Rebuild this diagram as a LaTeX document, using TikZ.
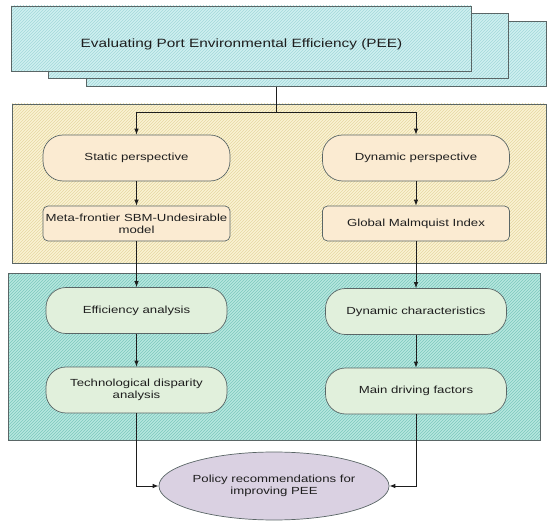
\documentclass[tikz,border=0pt]{standalone}
\usepackage{fontspec}
\setmainfont[FakeStretch=1.28]{Liberation Sans}
\usetikzlibrary{arrows.meta,patterns,shapes.geometric}
\definecolor{framegray}{HTML}{5A6666}
\definecolor{inkgray}{HTML}{1E1E1E}
\definecolor{titlecyan}{HTML}{CFEFF0}
\definecolor{titlehatch}{HTML}{A3D9DA}
\definecolor{panelyellow}{HTML}{FAF3D3}
\definecolor{yellowhatch}{HTML}{E6D7A2}
\definecolor{boxpeach}{HTML}{FBEBD2}
\definecolor{panelteal}{HTML}{B6E7DF}
\definecolor{tealhatch}{HTML}{7CC8BC}
\definecolor{boxgreen}{HTML}{E1F0DC}
\definecolor{ovallilac}{HTML}{DAD1E2}
\begin{document}
\begin{tikzpicture}
[x=1pt,y=-1pt,
  titledecorate/.style={draw=framegray,line width=0.8pt,preaction={fill=titlecyan},
    pattern=north east lines,pattern color=titlehatch,
    minimum width=460pt,minimum height=65pt,inner sep=0pt},%
  paneldecorate/.style={draw=framegray,line width=0.8pt,inner sep=0pt},%
  stadiumdecorate/.style={draw=framegray,line width=0.7pt,rounded corners=20pt,
    minimum width=187pt,minimum height=46pt,inner sep=0pt,align=center,
    font=\fontsize{10.3}{12}\selectfont,text=inkgray},%
  flatdecorate/.style={stadiumdecorate,rounded corners=5pt,minimum height=35pt},%
  linedecorate/.style={-{Latex[length=6pt,width=4.5pt]},line width=0.8pt,draw=inkgray},%
  plaindecorate/.style={-,line width=0.8pt,draw=inkgray}]
\useasboundingbox (0,0) rectangle (550,527);
%% title stack
\node (back2) at (316,54) [titledecorate] {};
\node (back1) at (278.5,46) [titledecorate] {};
\node (title) at (241.5,38.5) [titledecorate,font=\fontsize{12}{14}\selectfont,text=inkgray,
  text height=19pt,text depth=0pt]
  {Evaluating Port Environmental Efficiency (PEE)};
%% panels
\node (yellowpanel) at (279,183.5) [paneldecorate,minimum width=534pt,minimum height=159pt,
  preaction={fill=panelyellow},pattern=north east lines,pattern color=yellowhatch] {};
\node (tealpanel) at (274,356.5) [paneldecorate,minimum width=532pt,minimum height=167pt,
  preaction={fill=panelteal},pattern=north east lines,pattern color=tealhatch] {};
%% boxes in the upper panel
\foreach \nodename/\x/\y/\txt in {static/136.5/158/Static perspective,
  dynamic/416/158/Dynamic perspective} {
  \node (\nodename) at (\x,\y) [stadiumdecorate,fill=boxpeach] {\txt};
}
\foreach \nodename/\x/\y/\txt in {meta/136.5/223.5/Meta-frontier SBM-Undesirable\\model,
  malmquist/416/223.5/Global Malmquist Index} {
  \node (\nodename) at (\x,\y) [flatdecorate,fill=boxpeach] {\txt};
}
%% boxes in the lower panel
\foreach \nodename/\x/\y/\txt in {efficiency/136.5/310.5/Efficiency analysis,
  characteristics/416/311.5/Dynamic characteristics,
  disparity/136.5/390/Technological disparity\\analysis,
  drivers/416/391/Main driving factors} {
  \node (\nodename) at (\x,\y) [stadiumdecorate,fill=boxgreen,minimum width=181pt] {\txt};
}
%% result
\node (policy) at (274,486) [ellipse,draw=framegray,line width=0.7pt,fill=ovallilac,
  minimum width=226pt,minimum height=68pt,inner sep=0pt,align=center,
  font=\fontsize{10.3}{12}\selectfont,text=inkgray]
  {Policy recommendations for\\improving PEE};
%% connectors
\coordinate (split) at (276,112.5);
\draw[plaindecorate] (back2.south -| split) -- (split);
\draw[linedecorate] (split) -| (static);
\draw[linedecorate] (split) -| (dynamic);
\path
\foreach \startnode/\endnode in {static/meta, dynamic/malmquist, meta/efficiency,
  malmquist/characteristics, efficiency/disparity, characteristics/drivers} {
  (\startnode) edge[linedecorate] (\endnode)
};
\draw[linedecorate] (disparity) |- (policy);
\draw[linedecorate] (drivers) |- (policy);
\end{tikzpicture}
\end{document}
